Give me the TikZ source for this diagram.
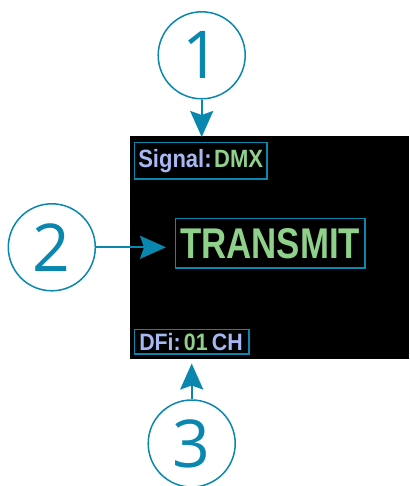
\documentclass[tikz,border=0pt]{standalone}
\usepackage{fontspec}
\setmainfont{Liberation Sans}
\newfontfamily\numfont{Open Sans}
\usetikzlibrary{arrows.meta}
\definecolor{teal}{HTML}{0A87AE}
\definecolor{lcdblue}{HTML}{A6B8F2}
\definecolor{lcdgreen}{HTML}{8FD08A}
\tikzset{
  callout/.style={circle,draw=teal,line width=1.5pt,minimum size=87pt,inner sep=0pt,
    text=teal,font=\numfont\fontsize{66}{66}\selectfont},
  pointer/.style={draw=teal,line width=2.2pt,-{Stealth[length=26pt,width=23pt,inset=4pt]}},
  lcdbox/.style={draw=teal,line width=1.8pt,inner sep=0pt,anchor=north west},
}
\begin{document}
\begin{tikzpicture}[x=1pt,y=-1pt]
\useasboundingbox (0,0) rectangle (409,486);
% screen
\fill[black] (130,136.5) rectangle (409,358.5);
\node[inner sep=0pt] (screen) at (269.5,247.5) {};
% boxes
\draw[teal,line width=1.8pt] (134.5,142.5) rectangle (267,179);
\draw[teal,line width=1.8pt] (175.5,218.5) rectangle (365,268);
\draw[teal,line width=1.8pt] (134.5,329.5) rectangle (249,354);
\node[inner sep=0pt] (sig) at (200.7,161) {\fontsize{25}{25}\selectfont\bfseries\scalebox{0.88}[1]{\color{lcdblue}Signal:\hspace{0.12em}\color{lcdgreen}DMX}};
\node[inner sep=0pt] (tx) at (270.2,244) {\fontsize{43}{43}\selectfont\bfseries\scalebox{0.81}[1]{\color{lcdgreen}TRANSMIT}};
\node[inner sep=0pt] (dfi) at (191,342) {\fontsize{23.7}{23.7}\selectfont\bfseries\scalebox{0.9}[1]{\color{lcdblue}DFi:\hspace{0.15em}\color{lcdgreen}01\hspace{0.2em}\color{lcdblue}CH}};
% callouts
\node[callout] (c1) at (201.7,55.3) {1};
\node[callout] (c2) at (51.8,247.3) {2};
\node[callout] (c3) at (191.7,443.5) {3};
\coordinate (t1) at (201.7,137);
\coordinate (t2) at (166,247.3);
\coordinate (t3) at (191.7,363.5);
\draw[pointer] (c1.south) -- (t1);
\draw[pointer] (c2.east) -- (t2);
\draw[pointer] (c3.north) -- (t3);
\end{tikzpicture}
\end{document}
